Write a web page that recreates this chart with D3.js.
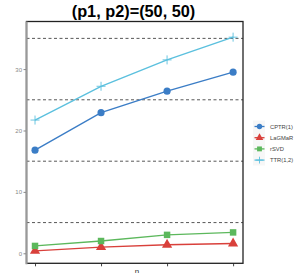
<html>
<head>
<script src="https://d3js.org/d3.v7.min.js"></script>
<style>
  body { margin: 0; background: #fff; }
  text { font-family: "Liberation Sans", Arial, sans-serif; }
</style>
</head>
<body>
<script>
    // data
    var xs = [1, 2, 3, 4];
    var methods = ["CPTR(1)", "LaGMaR", "rSVD", "TTR(1,2)"];
    var cptr = [16.8, 22.9, 26.4, 29.5];
    var lagmar = [0.4, 1.0, 1.4, 1.6];
    var rsvd = [1.2, 2.0, 3.0, 3.4];
    var ttr = [21.7, 27.2, 31.5, 35.2];
    var yTicks = [0, 10, 20, 30];
    var refLines = [5, 15, 25, 35];

    var series = [
        {name: methods[0], vals: cptr, color: "#3b7dc6", shape: d3.symbolCircle},
        {name: methods[1], vals: lagmar, color: "#d9403b", shape: d3.symbolTriangle},
        {name: methods[2], vals: rsvd, color: "#5cb85c", shape: d3.symbolSquare},
        {name: methods[3], vals: ttr, color: "#5bc0de", shape: "plus"}
    ];

    var width = 300, height = 273;
    // note: "top" is a reserved window property, so use pTop etc.
    var pLeft = 26.5, pRight = 243, pTop = 21.5, pBottom = 263.3;

    var svg = d3.select("body").append("svg")
        .attr("width", width)
        .attr("height", height);

    var x = d3.scaleLinear().domain([0.871, 4.15]).range([pLeft, pRight]);
    var y = d3.scaleLinear().domain([-1.63, 37.75]).range([pBottom, pTop]);

    // title
    svg.append("text")
        .attr("x", 133.5).attr("y", 17)
        .attr("text-anchor", "middle")
        .attr("font-weight", "bold")
        .attr("font-size", 16.3)
        .text("(p1, p2)=(50, 50)");

    // dashed reference lines
    svg.append("g").selectAll("line")
        .data(refLines)
        .enter().append("line")
        .attr("x1", pLeft).attr("x2", pRight)
        .attr("y1", function (d) { return y(d); })
        .attr("y2", function (d) { return y(d); })
        .attr("stroke", "#444")
        .attr("stroke-width", 0.9)
        .attr("stroke-dasharray", "3,2.5");

    // y axis
    var yAxis = svg.append("g")
        .attr("transform", "translate(" + pLeft + ",0)")
        .call(d3.axisLeft(y).tickValues(yTicks).tickSize(3).tickPadding(1.5));
    yAxis.select(".domain").remove();
    yAxis.selectAll("line").attr("stroke", "#888");
    yAxis.selectAll("text").attr("fill", "#888").attr("font-size", 6)
        .attr("font-family", "Liberation Sans, Arial, sans-serif");

    // x axis ticks
    var xAxis = svg.append("g")
        .attr("transform", "translate(0," + pBottom + ")")
        .call(d3.axisBottom(x).tickValues(xs).tickSize(3).tickFormat(""));
    xAxis.select(".domain").remove();
    xAxis.selectAll("line").attr("stroke", "#444");

    // panel border
    svg.append("rect")
        .attr("x", pLeft).attr("y", pTop)
        .attr("width", pRight - pLeft).attr("height", pBottom - pTop)
        .attr("fill", "none")
        .attr("stroke", "#222")
        .attr("stroke-width", 1.3);
    svg.append("line")
        .attr("x1", pLeft).attr("x2", pLeft)
        .attr("y1", pTop).attr("y2", pBottom + 1)
        .attr("stroke", "#999")
        .attr("stroke-width", 2);

    // x label (cut off at bottom)
    svg.append("text")
        .attr("x", 137).attr("y", 274)
        .attr("text-anchor", "middle")
        .attr("font-size", 8)
        .attr("fill", "#333")
        .text("n");

    function marker(g, s, cx, cy, k) {
        if (s.shape === "plus") {
            var h = 4.5 * k;
            g.append("path")
                .attr("d", "M" + (cx - h) + "," + cy + "H" + (cx + h) +
                    "M" + cx + "," + (cy - h) + "V" + (cy + h))
                .attr("stroke", s.color).attr("stroke-width", 0.9).attr("fill", "none");
        } else {
            var size = s.shape === d3.symbolCircle ? 40 : (s.shape === d3.symbolSquare ? 42 : 45);
            g.append("path")
                .attr("d", d3.symbol().type(s.shape).size(size * k * k)())
                .attr("transform", "translate(" + cx + "," + cy + ")")
                .attr("fill", s.color);
        }
    }

    var line = d3.line()
        .x(function (d, i) { return x(xs[i]); })
        .y(function (d) { return y(d); });

    series.forEach(function (s) {
        var g = svg.append("g");
        g.append("path")
            .attr("d", line(s.vals))
            .attr("fill", "none")
            .attr("stroke", s.color)
            .attr("stroke-width", 1.4);
        s.vals.forEach(function (v, i) {
            marker(g, s, x(xs[i]), y(v), 1);
        });
    });

    // legend
    var leg = svg.append("g");
    leg.append("rect")
        .attr("x", 253).attr("y", 120.5)
        .attr("width", 12).attr("height", 45)
        .attr("fill", "#f7f7f7");
    series.forEach(function (s, i) {
        var ly = 126.5 + i * 11.2;
        var g = leg.append("g");
        g.append("line")
            .attr("x1", 254.5).attr("x2", 264.5)
            .attr("y1", ly).attr("y2", ly)
            .attr("stroke", s.color).attr("stroke-width", 1.3);
        marker(g, s, 259.5, ly, 0.75);
        g.append("text")
            .attr("x", 270).attr("y", ly + 2)
            .attr("font-size", 5.8)
            .attr("fill", "#444")
            .text(s.name);
    });
</script>
</body>
</html>
